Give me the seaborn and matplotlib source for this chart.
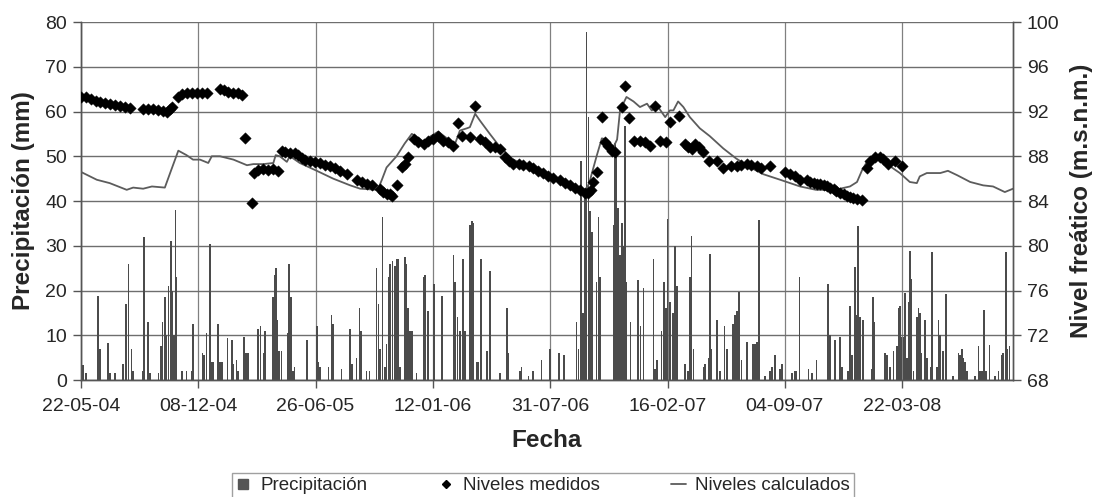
import matplotlib
matplotlib.use("Agg")
import matplotlib.pyplot as plt
import matplotlib.dates as mdates
from matplotlib.lines import Line2D
import pandas as pd
import seaborn as sns

# Fecha de inicio de la serie; los datos se dan en días desde esa fecha
inicio = pd.Timestamp("2004-05-22")
dias_total = 1589

# Precipitación diaria (mm)
dia_lluvia = [4, 9, 29, 32, 46, 49, 58, 72, 77, 81, 86, 89, 106, 107, 114, 118, 132, 136, 139, 143,
              146, 149, 153, 156, 159, 161, 163, 172, 180, 189, 191, 207, 210, 214, 220, 223, 226, 234,
              237, 240, 250, 258, 260, 265, 268, 278, 280, 283, 285, 302, 306, 311, 314, 327, 330, 332,
              335, 338, 342, 352, 355, 358, 361, 364, 385, 402, 405, 408, 422, 427, 430, 444, 459, 462,
              470, 475, 477, 487, 492, 504, 507, 510, 514, 518, 521, 524, 527, 531, 535, 538, 541, 544,
              552, 555, 558, 561, 564, 572, 584, 587, 592, 602, 615, 635, 638, 642, 646, 651, 655, 663,
              667, 669, 675, 677, 682, 692, 697, 714, 726, 728, 748, 751, 763, 771, 785, 800, 815, 824,
              845, 848, 852, 856, 859, 862, 865, 868, 871, 879, 882, 885, 908, 910, 913, 916, 919, 922,
              925, 928, 930, 937, 950, 954, 959, 976, 979, 982, 990, 994, 997, 1000, 1004, 1009, 1013,
              1016, 1030, 1035, 1038, 1041, 1044, 1061, 1064, 1070, 1072, 1075, 1084, 1089, 1097, 1101,
              1112, 1115, 1118, 1122, 1126, 1135, 1146, 1149, 1152, 1156, 1166, 1175, 1178, 1183, 1192,
              1195, 1212, 1217, 1220, 1225, 1240, 1246, 1254, 1274, 1277, 1286, 1294, 1297, 1308, 1311,
              1314, 1320, 1323, 1325, 1328, 1333, 1348, 1350, 1352, 1371, 1374, 1379, 1385, 1391, 1395,
              1396, 1399, 1402, 1405, 1408, 1411, 1413, 1416, 1419, 1425, 1428, 1430, 1433, 1439, 1442,
              1448, 1451, 1459, 1462, 1465, 1470, 1475, 1487, 1496, 1499, 1502, 1504, 1507, 1510, 1524,
              1530, 1533, 1536, 1540, 1543, 1549, 1558, 1564, 1570, 1572, 1577, 1579, 1583]
lluvia_mm = [3.4, 1.5, 18.8, 7, 8.2, 1.5, 1.5, 3.5, 17, 26, 7, 2, 2, 32, 13, 1.5, 1.5, 7.7, 13, 18.5,
             10, 21, 31, 20, 10, 38, 23, 2, 2, 2, 12.5, 6, 5.5, 10.5, 30.5, 4, 4, 12.5,
             4, 4, 9.3, 9, 3.5, 4.5, 2, 9.5, 6, 6, 6, 11.5, 12, 6, 11, 18.5, 23.5, 25,
             13.5, 6.5, 6.5, 10.5, 26, 18.5, 2, 3, 9, 12, 4, 3, 3, 14.5, 12.5, 2.5, 11.5, 3.5,
             5, 16, 11, 2, 2, 25, 17, 7, 36.5, 3, 8, 23, 26, 26.5, 25.5, 27, 27, 3,
             27.5, 26, 16, 11, 11, 1.5, 23, 23.5, 15.5, 21.5, 18.8, 28, 22, 14, 11, 27, 11, 34.6,
             35.5, 35, 4, 4, 27, 6.5, 24.4, 1.5, 16.2, 6, 2, 3, 1, 2, 4.5, 7, 6, 5.5,
             13, 7, 49, 15, 42, 77.7, 58.7, 37.8, 33, 22, 36.5, 23, 34.6, 53, 50, 38.4, 28, 35,
             30, 56.8, 22, 13, 22.3, 12, 20.5, 27, 2.5, 4.5, 11, 22, 16, 36, 17.5, 15, 29.9,
             21, 3.5, 2, 23, 32.2, 7, 3, 3.5, 5, 28.2, 7, 13.5, 2, 12, 7,
             12.5, 14.5, 15.5, 19.6, 4.5, 8.5, 8, 8, 8.5, 35.8, 1, 2, 3, 5.5, 2.5,
             3.5, 1.5, 2, 2, 23.1, 2.5, 1.5, 4.5, 21.5, 10, 9, 9.5, 3, 2, 16.5,
             5.5, 25.3, 14.5, 34.5, 14, 13.5, 2.5, 18.5, 13, 6, 5.5, 3, 6.5, 7.5, 16,
             16.5, 9.5, 9.5, 19.4, 5, 17.5, 28.8, 22.5, 2, 14, 16, 15, 6, 13.5, 5,
             3, 28.7, 3, 13.5, 10, 6.5, 19.3, 1, 6, 5.5, 7, 5, 4, 2, 1,
             7.5, 2, 2, 15.6, 2, 7.8, 1, 2, 5.5, 6, 28.5, 7, 7.5]

# Niveles freáticos medidos (m.s.n.m.)
dia_medido = [0, 8, 17, 25, 32, 41, 49, 58, 66, 75, 84,
              106, 115, 123, 132, 140, 146, 152, 156,
              166, 172, 180, 189, 197, 206, 215,
              237, 244, 251, 260, 267, 274,
              280, 291, 295, 302, 310, 319, 327, 336,
              342, 348, 356, 365, 370, 376, 382, 390, 399, 407, 416, 424, 433, 442, 453, 470, 479, 487,
              496, 510, 515, 521, 527, 531,
              538, 547, 552, 558,
              567, 575, 584, 592, 601, 609, 618, 626, 635,
              643, 649, 663, 671, 680, 689, 697, 706, 714, 723, 729, 737, 746, 754, 763, 771, 780, 788,
              797, 805, 817, 825, 834, 842, 851, 859, 865, 869,
              873, 879, 888, 893, 899, 905, 910,
              922, 927, 935, 943, 953, 962, 970, 979, 987, 997, 1004, 1020,
              1030, 1035, 1041, 1047, 1053, 1061, 1070, 1084, 1095, 1109, 1118, 1126, 1135, 1143, 1152,
              1160, 1175,
              1200, 1209, 1217, 1226, 1237, 1243, 1249, 1255, 1260, 1266, 1271, 1277, 1283, 1288, 1294,
              1300, 1306, 1311, 1317, 1323, 1331,
              1340, 1345, 1354, 1362, 1368, 1376, 1388, 1399]
nivel_medido = [93.32, 93.26, 93.11, 92.96, 92.84, 92.73, 92.64, 92.55, 92.49, 92.43, 92.34,
                92.22, 92.19, 92.19, 92.13, 92.04, 91.95, 92.19, 92.37,
                93.32, 93.53, 93.62, 93.62, 93.62, 93.62, 93.62,
                93.98, 93.92, 93.77, 93.68, 93.62, 93.5,
                89.65, 83.8, 86.5, 86.8, 86.9, 86.8, 86.9, 86.7,
                88.49, 88.4, 88.25, 88.25, 88.1, 87.84, 87.7, 87.55, 87.45, 87.4, 87.25, 87.16, 86.97,
                86.67, 86.37, 85.92, 85.7, 85.55,
                85.43, 85.05, 84.8, 84.6, 84.6, 84.45,
                85.4, 87.05, 87.35, 87.9,
                89.55, 89.25, 89.1, 89.4, 89.55, 89.85, 89.4, 89.25, 88.95,
                90.95, 89.85, 89.7, 92.47, 89.55, 89.25, 88.8, 88.8, 88.65, 87.9, 87.6, 87.35, 87.3,
                87.25, 87.1, 86.95, 86.7, 86.5,
                86.2, 86.05, 85.9, 85.6, 85.45, 85.15, 85.0, 84.7, 84.75, 85.0,
                85.7, 86.6, 91.5, 89.25, 88.95, 88.5, 88.4,
                92.4, 94.3, 91.4, 89.4, 89.35, 89.25, 88.95, 92.5, 89.4, 89.25, 91.1, 91.6,
                89.1, 88.8, 88.65, 89.1, 88.8, 88.4, 87.6, 87.6, 86.95, 87.1, 87.1, 87.25, 87.35, 87.25,
                87.1, 86.95, 87.1,
                86.6, 86.4, 86.2, 85.9, 85.85, 85.7, 85.6, 85.55, 85.5, 85.4, 85.3, 85.2, 85.1, 84.9,
                84.75, 84.6, 84.45, 84.35, 84.25, 84.2, 84.1,
                86.95, 87.6, 87.9, 87.95, 87.75, 87.35, 87.6, 87.15]

# Niveles freáticos calculados por el modelo (m.s.n.m.)
dia_calculado = [0, 27, 49, 78, 89, 106, 121, 143, 152, 166, 180, 191, 203, 217, 223, 237, 260, 283,
                 294, 311, 328, 332, 339, 351, 356, 362, 373, 402, 430, 459, 476, 506, 513, 521, 538,
                 552, 564, 572, 584, 595, 609, 624, 638, 646, 658, 663, 672, 680, 697, 714, 737, 754,
                 777, 800, 828, 851, 859, 868, 879, 888, 896, 908, 914, 919, 930, 942, 953, 965, 973,
                 984, 996, 1004, 1010, 1018, 1027, 1038, 1055, 1072, 1095, 1117, 1141, 1163, 1192,
                 1226, 1253, 1282, 1294, 1311, 1323, 1332, 1340, 1357, 1374, 1396, 1413, 1425, 1430,
                 1442, 1465, 1478, 1494, 1516, 1538, 1555, 1575, 1589]
nivel_calculado = [86.6, 85.9, 85.6, 85.0, 85.2, 85.1, 85.3, 85.2, 86.5, 88.5, 88.1, 87.7, 87.7, 87.4,
                   88.0, 88.0, 87.7, 87.2, 87.3, 87.3, 87.4, 88.1, 88.0, 87.5, 88.0, 87.8, 87.4, 86.7,
                   86.0, 85.4, 85.1, 85.0, 85.9, 87.0, 88.0, 89.15, 90.0, 89.75, 89.3, 89.75, 90.2,
                   89.6, 89.15, 90.3, 90.5, 90.6, 91.8, 91.2, 90.0, 88.85, 87.7, 87.3, 86.8, 86.2,
                   85.4, 84.8, 84.6, 85.9, 88.0, 89.6, 89.5, 88.85, 89.5, 92.1, 93.3, 92.9, 92.4,
                   92.7, 92.1, 92.4, 91.5, 92.1, 92.1, 92.9, 92.4, 91.5, 90.5, 89.8, 88.7, 87.8, 87.0,
                   86.4, 85.9, 85.3, 85.0, 85.0, 85.1, 85.3, 85.7, 86.8, 87.5, 87.8, 87.3, 86.5, 85.7,
                   85.6, 86.2, 86.5, 86.5, 86.7, 86.3, 85.7, 85.4, 85.3, 84.8, 85.1]

etiquetas = ["Precipitación", "Niveles medidos", "Niveles calculados"]


def a_fecha(dias):
    return inicio + pd.to_timedelta(dias, unit="D")


lluvia = pd.DataFrame({"fecha": a_fecha(dia_lluvia), "mm": lluvia_mm})
medido = pd.DataFrame({"fecha": a_fecha(dia_medido), "nivel": nivel_medido})
calculado = pd.DataFrame({"fecha": a_fecha(dia_calculado), "nivel": nivel_calculado})

sns.set_style("ticks")
plt.rcParams["font.family"] = ["Liberation Sans", "DejaVu Sans"]

color_barra = "#4b4b4b"
color_linea = "#5c5c5c"
color_rejilla = "#6e6e6e"

fig = plt.figure(figsize=(10.94, 4.97), dpi=100)
ax = fig.add_axes([0.074, 0.2354, 0.852, 0.7203])

# Precipitación en el eje izquierdo
ax.bar(lluvia["fecha"], lluvia["mm"], width=2.8, color=color_barra, linewidth=0, zorder=2)
ax.set_ylim(0, 80)
ax.set_yticks(range(0, 81, 10))
ax.set_xlim(inicio, a_fecha([dias_total])[0])
marcas = a_fecha(list(range(0, 1401, 200)))
ax.set_xticks(marcas)
ax.xaxis.set_major_formatter(mdates.DateFormatter("%d-%m-%y"))
ax.set_axisbelow(True)
ax.yaxis.grid(True, color=color_rejilla, linewidth=1.0)
ax.xaxis.grid(True, color="#808080", linewidth=0.9)

# Niveles freáticos en el eje derecho
ax2 = ax.twinx()
sns.lineplot(data=calculado, x="fecha", y="nivel", ax=ax2, color=color_linea, linewidth=1.3,
             zorder=3)
sns.scatterplot(data=medido, x="fecha", y="nivel", ax=ax2, marker="D", s=34, color="black",
                edgecolor="black", linewidth=0.3, zorder=4)
ax2.set_ylim(68, 100)
ax2.set_yticks(range(68, 101, 4))
ax2.grid(False)

for eje in (ax, ax2):
    eje.tick_params(axis="y", labelsize=14, length=6, width=1.0, color="#555555",
                    direction="out", pad=4)
    eje.tick_params(axis="x", labelsize=14, length=6, width=1.0, color="#555555",
                    direction="out", pad=7)
    eje.spines["top"].set_visible(False)
    for lado in ("left", "bottom", "right"):
        eje.spines[lado].set_color("#555555")
        eje.spines[lado].set_linewidth(1.0)

ax.set_xlabel("Fecha", fontsize=17.5, fontweight="bold")
ax.xaxis.set_label_coords(0.5, -0.138)
ax.set_ylabel("Precipitación (mm)", fontsize=17.5, fontweight="bold")
ax.yaxis.set_label_coords(-0.049, 0.5)
ax2.set_ylabel("Nivel freático (m.s.n.m.)", fontsize=17.5, fontweight="bold")
ax2.yaxis.set_label_coords(1.0615, 0.5)

manejadores = [
    Line2D([], [], marker="s", linestyle="none", color="#555555", markersize=7.5),
    Line2D([], [], marker="D", linestyle="none", color="black", markersize=4.5),
    Line2D([], [], color=color_linea, linewidth=1.3),
]
fig.legend(manejadores, etiquetas, loc="upper center", bbox_to_anchor=(0.4963, 0.0475), ncol=3,
           frameon=True, fancybox=False, edgecolor="#888888", fontsize=13.5, handlelength=0.8,
           handletextpad=0.5, columnspacing=3.8, borderaxespad=0, borderpad=0.2)

fig.savefig("out.png", dpi=100)
